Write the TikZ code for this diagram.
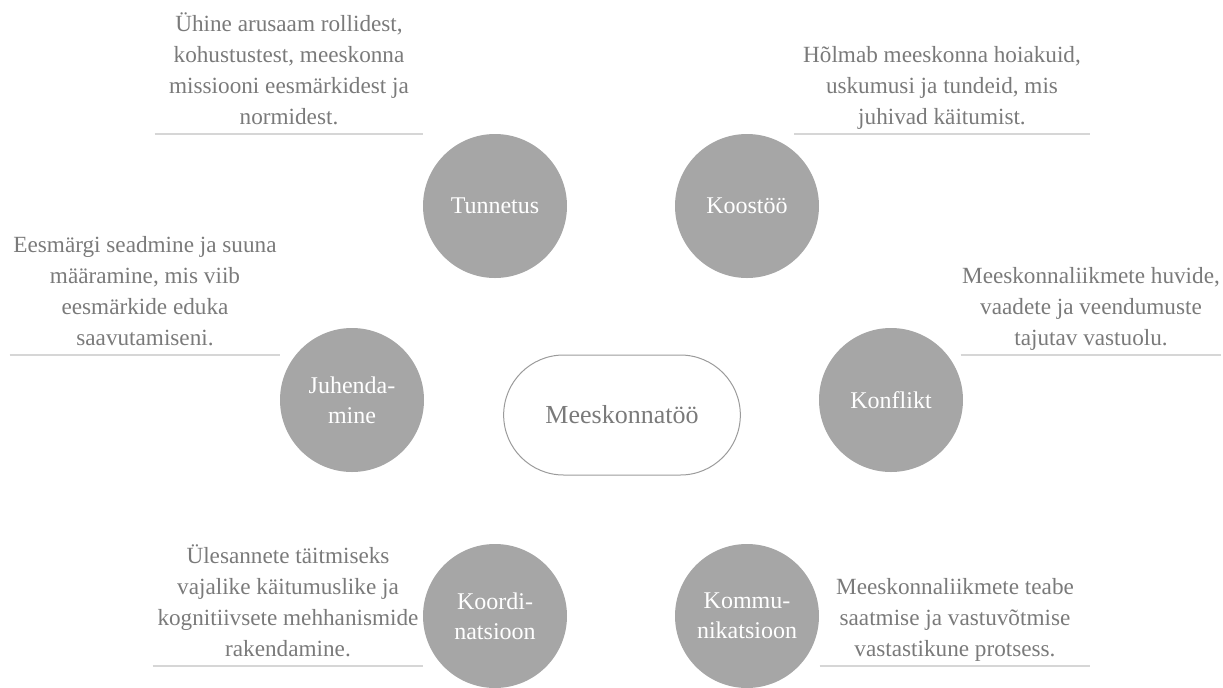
\documentclass[tikz,border=0pt]{standalone}
\usepackage{fontspec}
\setmainfont{Liberation Serif}
\usepackage{xcolor}
\usetikzlibrary{shapes.misc}

\definecolor{topicgray}{HTML}{A6A6A6}
\definecolor{textgray}{HTML}{7A7A7A}
\definecolor{rulegray}{HTML}{D6D6D6}

\begin{document}
\begin{tikzpicture}[
        x=0.5pt, y=-0.5pt,
        topic/.style={circle, fill=topicgray, minimum size=72pt, inner sep=0pt, text=white, align=center, font=\fontsize{12}{15}\selectfont},
        core/.style={rounded rectangle, draw=textgray!75, line width=0.5pt, minimum width=125pt, minimum height=60pt, text=textgray, font=\fontsize{13}{16}\selectfont},
        note/.style={anchor=south, align=center, inner xsep=0pt, inner ysep=0pt, text=textgray, font=\fontsize{11.6}{15.5}\selectfont},
        rule/.style={draw=rulegray, line width=0.7pt}
        ]

        \useasboundingbox (0,0) rectangle (1223,687);

        % Centre
        \node[core] (team) at (622,415) {Meeskonnatöö};

        % Circles
        \node[topic] (cognition) at (495,206) {Tunnetus};
        \node[topic] (cohesion) at (747,206) {Koostöö};
        \node[topic] (guidance) at (352,400) {Juhenda-\\mine};
        \node[topic] (conflict) at (891,400) {Konflikt};
        \node[topic] (coordination) at (495,616) {Koordi-\\natsioon};
        \node[topic] (communication) at (747,616) {Kommu-\\nikatsioon};

        % Notes
        \node[note, minimum width=134pt] (cognition-note) at (289,134) {Ühine arusaam rollidest,\\kohustustest, meeskonna\\missiooni eesmärkidest ja\\normidest.\strut};
        \node[note, minimum width=147.5pt] (cohesion-note) at (942,134) {Hõlmab meeskonna hoiakuid,\\uskumusi ja tundeid, mis\\juhivad käitumist.\strut};
        \node[note, minimum width=135pt] (guidance-note) at (145,355) {Eesmärgi seadmine ja suuna\\määramine, mis viib\\eesmärkide eduka\\saavutamiseni.\strut};
        \node[note, minimum width=130pt] (conflict-note) at (1091,355) {Meeskonnaliikmete huvide,\\vaadete ja veendumuste\\tajutav vastuolu.\strut};
        \node[note, minimum width=135pt] (coordination-note) at (288,666) {Ülesannete täitmiseks\\vajalike käitumuslike ja\\kognitiivsete mehhanismide\\rakendamine.\strut};
        \node[note, minimum width=135pt] (communication-note) at (955,666) {Meeskonnaliikmete teabe\\saatmise ja vastuvõtmise\\vastastikune protsess.\strut};

        % Rules
        \foreach \n in {cognition, cohesion, guidance, conflict, coordination, communication}
            \draw[rule] (\n-note.south west) -- (\n-note.south east);

    \end{tikzpicture}
\end{document}
